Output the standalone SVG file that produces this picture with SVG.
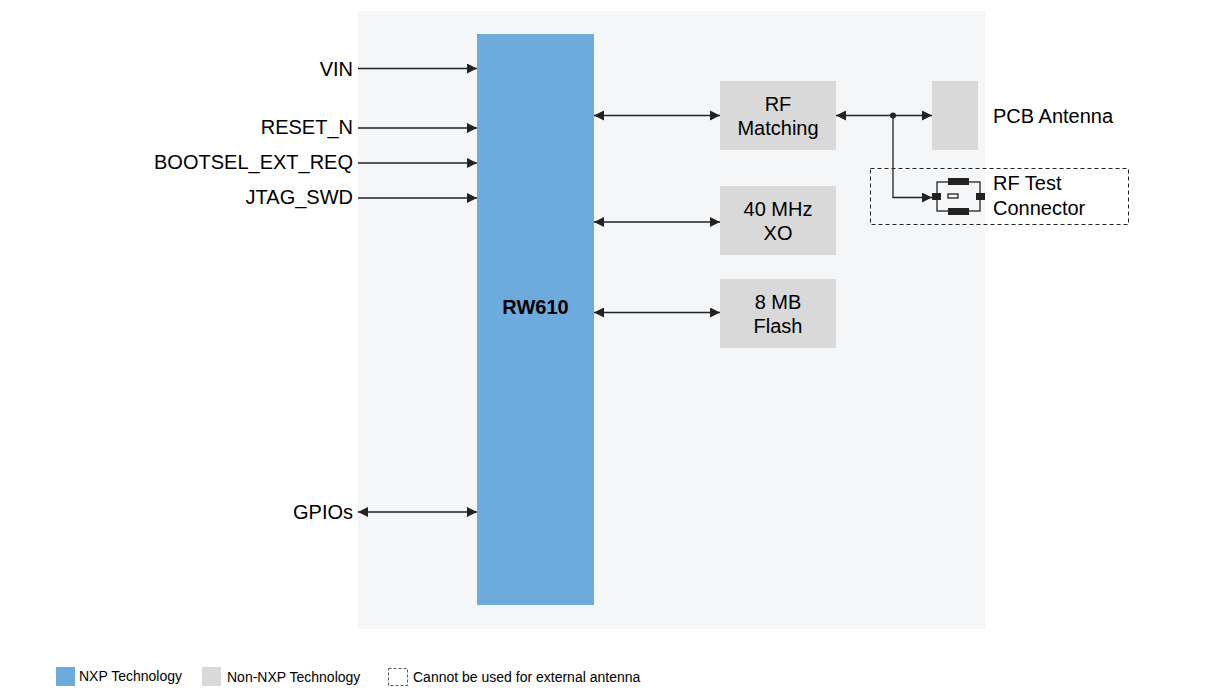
<svg xmlns="http://www.w3.org/2000/svg" width="1210" height="695" viewBox="0 0 1210 695">
<style>
text{font-family:"Liberation Sans",Arial,sans-serif;fill:#000}
.l{font-size:20px}
.c{font-size:20px;text-anchor:middle}
.s{font-size:14px}
.ln{stroke:#222;stroke-width:1.3;fill:none}
.g{fill:#d9d9d9}
</style>
<defs>
<marker id="a" viewBox="0 0 10 10" refX="10" refY="5" markerWidth="10" markerHeight="10" markerUnits="userSpaceOnUse" orient="auto-start-reverse"><path d="M0,0L10,5L0,10Z" fill="#222"/></marker>
</defs>
<rect x="0" y="0" width="1210" height="695" fill="#fff"/>
<rect x="358" y="11" width="627" height="618" fill="#f5f6f8"/>
<g id="rw610"><rect x="477" y="34" width="117" height="571" fill="#6eabdd"/><text x="535.500" y="314" class="c" font-weight="bold">RW610</text></g>
<g id="rf"><rect class="g" x="720" y="81" width="116" height="69"/><text x="778" y="111" class="c">RF</text><text x="778" y="135" class="c">Matching</text></g>
<g id="xo"><rect class="g" x="720" y="186" width="116" height="69"/><text x="778" y="216" class="c">40 MHz</text><text x="778" y="240" class="c">XO</text></g>
<g id="flash"><rect class="g" x="720" y="279" width="116" height="69"/><text x="778" y="309" class="c">8 MB</text><text x="778" y="333" class="c">Flash</text></g>
<g id="antenna"><rect class="g" x="932" y="81" width="46" height="69"/><text x="993" y="123" class="l">PCB Antenna</text></g>
<g id="rftest"><rect x="870.500" y="168.500" width="258" height="56" fill="none" stroke="#222" stroke-dasharray="4,3"/>
<rect x="937" y="182" width="43" height="29" fill="none" stroke="#222" stroke-width="1.3"/>
<rect x="948" y="178" width="21" height="7" fill="#222"/><rect x="948" y="208" width="21" height="7" fill="#222"/>
<rect x="932" y="193" width="9" height="7" fill="#222"/><rect x="976" y="193" width="9" height="7" fill="#222"/>
<rect x="948" y="194" width="10" height="4" fill="none" stroke="#222" stroke-width="1.3"/>
<text x="993" y="190" class="l">RF Test</text><text x="993" y="215" class="l">Connector</text></g>
<g id="labels">
<text x="353" y="76" class="l" text-anchor="end">VIN</text>
<text x="353" y="134" class="l" text-anchor="end">RESET_N</text>
<text x="353" y="169" class="l" text-anchor="end">BOOTSEL_EXT_REQ</text>
<text x="353" y="204" class="l" text-anchor="end">JTAG_SWD</text>
<text x="353" y="519" class="l" text-anchor="end">GPIOs</text>
</g>
<g id="connectors">
<path class="ln" d="M358,68.500H477" marker-end="url(#a)"/>
<path class="ln" d="M358,128H477" marker-end="url(#a)"/>
<path class="ln" d="M358,163H477" marker-end="url(#a)"/>
<path class="ln" d="M358,198H477" marker-end="url(#a)"/>
<path class="ln" d="M358,512H477" marker-start="url(#a)" marker-end="url(#a)"/>
<path class="ln" d="M594,115.500H720" marker-start="url(#a)" marker-end="url(#a)"/>
<path class="ln" d="M594,222H720" marker-start="url(#a)" marker-end="url(#a)"/>
<path class="ln" d="M594,312.500H720" marker-start="url(#a)" marker-end="url(#a)"/>
<path class="ln" d="M836,115.500H932" marker-start="url(#a)" marker-end="url(#a)"/>
<path class="ln" d="M893,115.500V197.500H932" marker-end="url(#a)"/>
<circle cx="893" cy="115.500" r="3" fill="#222"/>
</g>
<g id="legend">
<rect x="56" y="667" width="19" height="19" fill="#6eabdd"/><text x="79" y="681" class="s">NXP Technology</text>
<rect x="202" y="667" width="19" height="19" fill="#d9d9d9"/><text x="227" y="682" class="s">Non-NXP Technology</text>
<rect x="388.500" y="668.500" width="19" height="17" fill="none" stroke="#555" stroke-dasharray="3,2"/><text x="413" y="682" class="s">Cannot be used for external antenna</text>
</g>
</svg>
